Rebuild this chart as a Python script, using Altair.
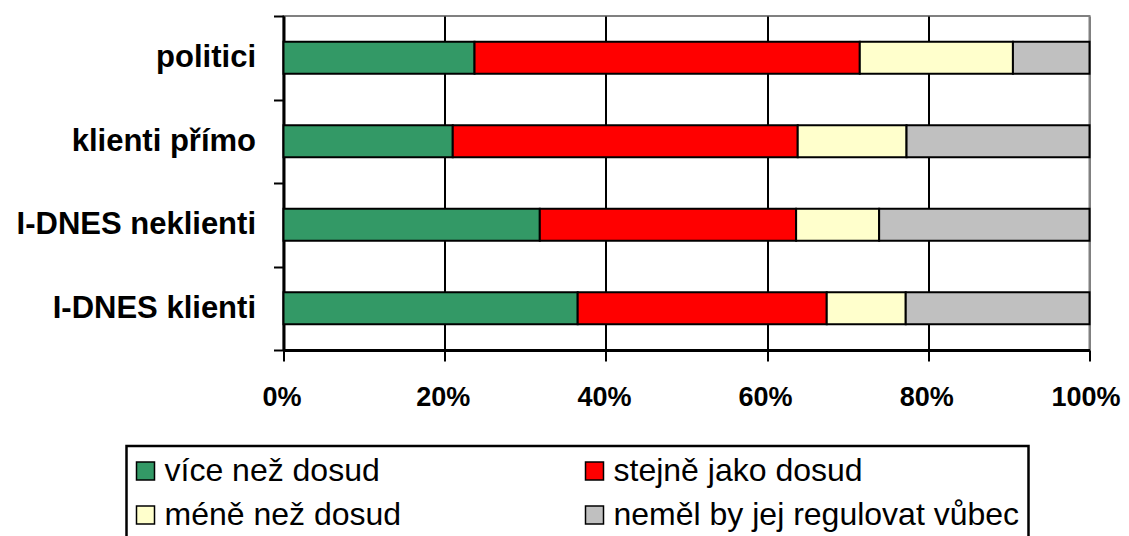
import altair as alt
import pandas as pd

categories = ["politici", "klienti přímo", "I-DNES neklienti", "I-DNES klienti"]
series = ["více než dosud", "stejně jako dosud", "méně než dosud", "neměl by jej regulovat vůbec"]
colors = ["#339966", "#FF0000", "#FFFFCC", "#C0C0C0"]
legend_order = ["více než dosud", "méně než dosud", "stejně jako dosud", "neměl by jej regulovat vůbec"]

vice = [23.7, 21.0, 31.8, 36.5]
stejne = [47.8, 42.8, 31.8, 30.9]
mene = [19.0, 13.5, 10.3, 9.8]
nemel = [9.5, 22.7, 26.1, 22.8]

values_by_series = [vice, stejne, mene, nemel]
rows = []
for si, (s, vals) in enumerate(zip(series, values_by_series)):
    for c, v in zip(categories, vals):
        rows.append({"category": c, "series": s, "value": v, "idx": si})
df = pd.DataFrame(rows)

FONT = "Liberation Sans"

chart = alt.Chart(df).mark_bar(size=32, stroke="black", strokeWidth=2).encode(
    x=alt.X(
        "value:Q",
        stack="normalize",
        scale=alt.Scale(domain=[0, 1]),
        axis=alt.Axis(
            format=".0%",
            values=[0, 0.2, 0.4, 0.6, 0.8, 1.0],
            title=None,
            labelFont=FONT,
            labelFontWeight="bold",
            labelFontSize=27,
            labelColor="black",
            labelPadding=23,
            labelFlush=False,
            labelOffset=alt.condition("datum.value >= 1", alt.value(-4), alt.value(-2)),
            domainColor="black",
            domainWidth=3,
            tickColor="black",
            tickWidth=2,
            tickSize=11,
            grid=True,
            gridColor=alt.condition("datum.value >= 1", alt.value("#808080"), alt.value("black")),
            gridWidth=2,
            gridOpacity=1,
        ),
    ),
    y=alt.Y(
        "category:N",
        sort=categories,
        scale=alt.Scale(paddingInner=0, paddingOuter=0),
        axis=alt.Axis(
            title=None,
            tickBand="extent",
            labelFont=FONT,
            labelFontWeight="bold",
            labelFontSize=31,
            labelColor="black",
            labelPadding=18,
            labelLimit=400,
            domainColor="black",
            domainWidth=3,
            tickColor="black",
            tickWidth=2,
            tickSize=10,
            grid=False,
        ),
    ),
    color=alt.Color(
        "series:N",
        scale=alt.Scale(domain=series, range=colors),
        legend=alt.Legend(
            title=None,
            orient="none",
            legendX=-157,
            legendY=430,
            values=legend_order,
            columns=2,
            columnPadding=181,
            rowPadding=12,
            padding=9,
            strokeColor="black",
            labelFont=FONT,
            labelFontSize=32,
            labelColor="black",
            labelLimit=600,
            labelOffset=3,
            symbolOffset=-6,
            symbolType="square",
            symbolSize=324,
            symbolStrokeColor="black",
            symbolStrokeWidth=1.5,
            symbolOpacity=1,
        ),
    ),
    order=alt.Order("idx:Q"),
).properties(
    width=806,
    height=334,
    autosize="none",
    padding={"left": 275.5, "top": 8, "right": 31.5, "bottom": 186},
).configure_view(
    stroke="#808080",
    strokeWidth=2,
).configure_legend(
    strokeWidth=2.5,
)

chart.save("out.html", embed_options={"renderer": "svg", "actions": False})
